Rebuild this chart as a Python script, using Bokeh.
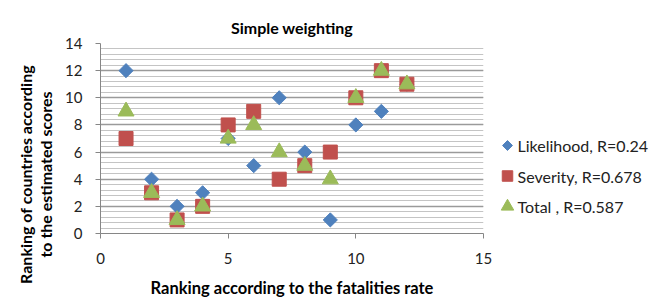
import math
from bokeh.plotting import figure
from bokeh.layouts import row
from bokeh.models import Range1d, SingleIntervalTicker, ColumnDataSource
from bokeh.core.properties import value
from bokeh.embed import file_html
from bokeh.resources import INLINE

# Data
fatality_rank = [1, 2, 3, 4, 5, 6, 7, 8, 9, 10, 11, 12]
likelihood = [12, 4, 2, 3, 7, 5, 10, 6, 1, 8, 9, 11]
severity = [7, 3, 1, 2, 8, 9, 4, 5, 6, 10, 12, 11]
total = [9, 3, 1, 2, 7, 8, 6, 5, 4, 10, 12, 11]
series_names = ["Likelihood, R=0.24", "Severity, R=0.678", "Total , R=0.587"]
colors = ["#4f81bd", "#c0504d", "#9bbb59"]
markers = ["square", "square", "triangle"]
angles = [math.pi / 4, 0, 0]
sizes = [10, 14, 16]
legend_sizes = [7, 10.5, 12.5]
title_text = "Simple weighting"
x_title = "Ranking according to the fatalities rate"
y_title_lines = ["Ranking of countries according", "to the estimated scores"]

FONT = "Lato"


def blank(fw, fh, xr, yr):
    f = figure(frame_width=fw, frame_height=fh, output_backend="svg", toolbar_location=None,
               x_range=xr, y_range=yr, min_border=0, min_border_top=43,
               x_axis_type=None, y_axis_type=None)
    f.outline_line_color = None
    f.xgrid.visible = False
    f.ygrid.visible = False
    return f


# ---- y-axis title panel (frame aligned with the chart's frame top; y from bottom) ----
ylab = blank(55, 264, Range1d(0, 55), Range1d(0, 264))
ysrc = ColumnDataSource(dict(x=[25, 45], y=[133, 133], t=y_title_lines))
ylab.text("x", "y", text="t", source=ysrc, angle=math.pi / 2, text_font=value(FONT),
          text_font_size="16px", text_font_style="bold", text_color="black",
          text_align="center", text_baseline="middle")

# ---- main chart ----
p = figure(width=440, height=307, output_backend="svg", toolbar_location=None,
           x_range=Range1d(0, 15), y_range=Range1d(0, 14),
           min_border_left=45, min_border_right=12, min_border_top=43, min_border_bottom=74,
           title=title_text)
p.outline_line_color = None
p.background_fill_color = "white"

p.title.align = "center"
p.title.text_font = FONT
p.title.text_font_size = "16px"
p.title.text_font_style = "bold"
p.title.text_color = "black"
p.title.standoff = 14

p.xaxis.ticker = SingleIntervalTicker(interval=5, num_minor_ticks=0)
p.yaxis.ticker = SingleIntervalTicker(interval=2, num_minor_ticks=5)

for ax in (p.xaxis, p.yaxis):
    ax.axis_line_color = "#868686"
    ax.major_tick_line_color = "#868686"
    ax.major_tick_out = 5
    ax.major_tick_in = 0
    ax.minor_tick_out = 0
    ax.minor_tick_in = 0
    ax.major_label_text_font = FONT
    ax.major_label_text_font_size = "15px"
    ax.major_label_text_color = "#222222"
    ax.axis_label_text_font = FONT
    ax.axis_label_text_font_size = "16.5px"
    ax.axis_label_text_font_style = "bold"
    ax.axis_label_text_color = "black"

p.xaxis.axis_label = x_title
p.xaxis.major_label_standoff = 14
p.xaxis.axis_label_standoff = 11
p.yaxis.major_label_standoff = 13

p.xgrid.grid_line_color = None
p.ygrid.grid_line_color = "#9a9a9a"
p.ygrid.grid_line_width = 1.5
p.ygrid.minor_grid_line_color = "#c4c4c4"
p.ygrid.minor_grid_line_width = 1

src = ColumnDataSource(dict(x=fatality_rank, l=likelihood, s=severity, t=total))
for col, c, m, a, sz in zip(["l", "s", "t"], colors, markers, angles, sizes):
    p.scatter("x", col, source=src, marker=m, size=sz, angle=a,
              fill_color=c, line_color=c)

# ---- legend panel: items placed by index (0, 1, 2) top to bottom ----
leg = blank(164, 264, Range1d(0, 164), Range1d(5.311, -3.344))
idx = list(range(len(series_names)))
lsrc = ColumnDataSource(dict(i=idx, name=series_names, color=colors, marker=markers,
                             angle=angles, size=legend_sizes,
                             mx=[12] * len(idx), tx=[22] * len(idx)))
leg.scatter("mx", "i", source=lsrc, marker="marker", size="size", angle="angle",
            fill_color="color", line_color="color")
leg.text("tx", "i", text="name", source=lsrc, text_font=value(FONT), text_font_size="16px",
         text_baseline="middle", text_align="left", text_color="#222222")

layout = row(ylab, p, leg, spacing=0)
open("out.html", "w").write(file_html(layout, INLINE))
